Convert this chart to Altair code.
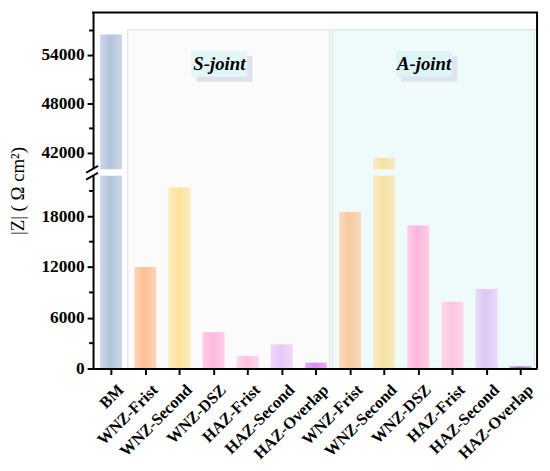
import json
import altair as alt
import pandas as pd

FONT = "Liberation Serif"

categories = ["BM", "WNZ-Frist", "WNZ-Second", "WNZ-DSZ", "HAZ-Frist", "HAZ-Second", "HAZ-Overlap",
              "WNZ-Frist", "WNZ-Second", "WNZ-DSZ", "HAZ-Frist", "HAZ-Second", "HAZ-Overlap"]
groups = ["BM"] + ["S-joint"] * 6 + ["A-joint"] * 6
values = [56500, 12000, 21400, 4300, 1500, 2850, 700, 18500, 41400, 16900, 7900, 9400, 250]
colors = ["#b3c3dd", "#fdbf92", "#fde29c", "#feb6dd", "#fec3df", "#e6c6f6", "#d98bf0",
          "#f7c89e", "#f6e1a2", "#feb4dc", "#fec4e0", "#dec6f6", "#a866cc"]

panel_names = ["S-joint", "A-joint"]
panel_fills = ["#fbfbfb", "#effbfb"]
panel_strokes = ["#e8e8e8", "#d9e9ec"]
label_boxes = ["#e3f7f8", "#dcf5f7"]
label_shadows = ["#e0e0ec", "#e0e2f0"]

y_major = [0, 6000, 12000, 18000, 42000, 48000, 54000]
y_minor = [3000, 9000, 15000, 21000, 45000, 51000, 57000]
break_low, break_high, y_top = 22800, 40000, 59200
panel_top = 57100

W, H = 449, 360

# ---- data tables ----
rows = []
for i, (c, v, col) in enumerate(zip(categories, values, colors)):
    rows.append(dict(idx=i, name=c, lo=0, hi=min(v, break_low), color=col))
    if v > break_high:
        rows.append(dict(idx=i, name=c, lo=break_high, hi=v, color=col))
bars_df = pd.DataFrame(rows)
bars_df["x0"] = bars_df["idx"] - 0.32
bars_df["x1"] = bars_df["idx"] + 0.32

prow = []
for k, p in enumerate(panel_names):
    ids = [i for i, g in enumerate(groups) if g == p]
    x0, x1 = min(ids) - 0.52, max(ids) + 0.40
    cx = (x0 + x1) / 2 - 0.27
    prow.append(dict(name=p, x0=x0, x1=x1, y0=0, y1=panel_top, fill=panel_fills[k],
                     stroke=panel_strokes[k], cx=cx, bx0=cx - 0.82, bx1=cx + 0.82,
                     sx0=cx - 0.67, sx1=cx + 0.97, box=label_boxes[k], shadow=label_shadows[k]))
panels_df = pd.DataFrame(prow)
minor_df = pd.DataFrame({"v": y_minor})

xs = alt.Scale(domain=[-0.53, 12.48], nice=False, zero=False)
ys = alt.Scale(domain=[0, break_low, break_high, y_top], range=[H, 165, 158.4, 0], nice=False, zero=False)

xaxis = alt.Axis(title=None, values=list(range(len(categories))),
                 labelExpr=f"{json.dumps(categories)}[datum.value]",
                 labelAngle=-45, labelAlign="right", labelBaseline="top",
                 labelFont=FONT, labelFontSize=16.5, labelFontWeight="bold", labelColor="black",
                 labelOverlap=False, labelFlush=False, labelPadding=7, labelOffset=4,
                 tickColor="black", tickWidth=2, tickSize=6,
                 domainColor="black", domainWidth=2, grid=False, zindex=1)
yaxis = alt.Axis(title="|Z| ( Ω cm²)", values=y_major, format="d",
                 labelFont=FONT, labelFontSize=17.5, labelFontWeight="bold", labelColor="black",
                 labelOverlap=False, labelFlush=False, labelPadding=3,
                 tickColor="black", tickWidth=2, tickSize=6,
                 domainColor="black", domainWidth=2, grid=False,
                 titleFont=FONT, titleFontSize=19, titleFontWeight="normal", titleColor="black",
                 titlePadding=14, zindex=0)


def X(f):
    return alt.X(f, scale=xs, axis=xaxis)


def Y(f):
    return alt.Y(f, scale=ys, axis=yaxis)


panels = alt.Chart(panels_df).mark_rect(strokeWidth=1.5).encode(
    x=X("x0:Q"), x2="x1:Q", y=Y("y0:Q"), y2="y1:Q",
    fill=alt.Fill("fill:N", scale=None), stroke=alt.Stroke("stroke:N", scale=None))

shadows = alt.Chart(panels_df).mark_rect().encode(
    x=X("sx0:Q"), x2="sx1:Q", y=alt.value(44), y2=alt.value(70),
    fill=alt.Fill("shadow:N", scale=None))
boxes = alt.Chart(panels_df).mark_rect().encode(
    x=X("bx0:Q"), x2="bx1:Q", y=alt.value(39), y2=alt.value(65),
    fill=alt.Fill("box:N", scale=None))
labels = alt.Chart(panels_df).mark_text(font=FONT, fontSize=19, fontWeight="bold",
                                        fontStyle="italic", color="black",
                                        align="center", baseline="middle").encode(
    x=X("cx:Q"), y=alt.value(52), text="name:N")

bars = alt.Chart(bars_df).mark_rect().encode(
    x=X("x0:Q"), x2="x1:Q", y=Y("lo:Q"), y2="hi:Q",
    fill=alt.Fill("color:N", scale=None))

sheen = alt.Chart(bars_df).mark_rect(
    fill=alt.LinearGradient(gradient="linear", x1=0, x2=1, y1=0, y2=0, stops=[
        alt.GradientStop(color="rgba(255,255,255,0.35)", offset=0),
        alt.GradientStop(color="rgba(255,255,255,0)", offset=0.45),
        alt.GradientStop(color="rgba(255,255,255,0.35)", offset=1)])
).encode(x=X("x0:Q"), x2="x1:Q", y=Y("lo:Q"), y2="hi:Q")

minor = alt.Chart(minor_df).mark_rule(color="black", strokeWidth=2).encode(
    x=alt.value(-4), x2=alt.value(0), y=Y("v:Q"))

deco = alt.Data(values=[{"a": 1}])
gap = alt.Chart(deco).mark_rect(color="white").encode(
    x=alt.value(-3), x2=alt.value(3), y=alt.value(158.5), y2=alt.value(165))
slash1 = alt.Chart(deco).mark_rule(color="black", strokeWidth=2).encode(
    x=alt.value(-7), x2=alt.value(5), y=alt.value(162), y2=alt.value(155))
slash2 = alt.Chart(deco).mark_rule(color="black", strokeWidth=2).encode(
    x=alt.value(-7), x2=alt.value(5), y=alt.value(169), y2=alt.value(162))
top = alt.Chart(deco).mark_rule(color="black", strokeWidth=2).encode(
    x=alt.value(-1), x2=alt.value(W + 1), y=alt.value(0))
right = alt.Chart(deco).mark_rule(color="black", strokeWidth=2).encode(
    x=alt.value(W), y=alt.value(0), y2=alt.value(H))

chart = alt.layer(panels, shadows, boxes, labels, bars, sheen, minor, gap, slash1, slash2, top, right
                  ).properties(
    width=W, height=H,
    padding={"left": 86, "top": 2, "right": 5, "bottom": 99},
    autosize=alt.AutoSizeParams(type="none"),
    background="white",
).configure_view(stroke=None)

chart.save("out.html", embed_options={"renderer": "svg", "actions": False})
